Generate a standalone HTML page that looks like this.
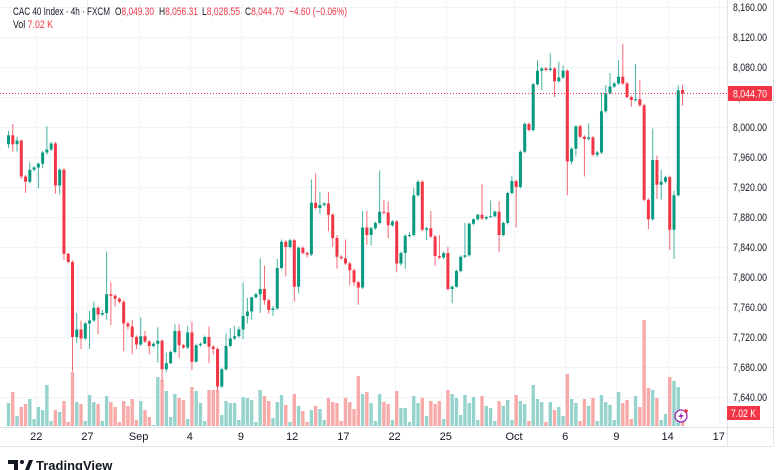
<!DOCTYPE html>
<html><head><meta charset="utf-8">
<style>
html,body{margin:0;padding:0;background:#fff;width:780px;height:470px;overflow:hidden;font-family:"Liberation Sans",sans-serif;}
svg text{font-family:"Liberation Sans",sans-serif;}
</style></head>
<body>
<svg id="chart" width="780" height="470" xmlns="http://www.w3.org/2000/svg">
  <g id="grid"></g>
  <g id="vol"></g>
  <g id="candles"></g>
  <line x1="0" y1="93.5" x2="727" y2="93.5" stroke="#f23645" stroke-width="1" stroke-dasharray="1,2"/>
  <line x1="727.5" y1="0" x2="727.5" y2="446" stroke="#e0e3eb"/>
  <line x1="0" y1="427.5" x2="773" y2="427.5" stroke="#e0e3eb"/>
  <line x1="0" y1="446.5" x2="773" y2="446.5" stroke="#e0e3eb"/>
  <line x1="773.5" y1="0" x2="773.5" y2="446" stroke="#e0e3eb"/>
  <g id="yaxis"></g>
  <g id="xaxis"></g>
  <g>
    <rect x="728" y="86" width="44" height="15" fill="#f23645"/>
    <text x="733" y="97.5" font-size="11" fill="#fff" textLength="34" lengthAdjust="spacingAndGlyphs">8,044.70</text>
  </g>
  <g>
    <rect x="727" y="406" width="33" height="14" fill="#f23645"/>
    <text x="731" y="417" font-size="11" fill="#fff" textLength="25" lengthAdjust="spacingAndGlyphs">7.02 K</text>
  </g>
  <g font-size="11">
    <text x="13" y="15" fill="#131722" textLength="97" lengthAdjust="spacingAndGlyphs">CAC 40 Index · 4h · FXCM</text>
    <text x="115" y="15" fill="#131722" textLength="39" lengthAdjust="spacingAndGlyphs">O<tspan fill="#f23645">8,049.30</tspan></text>
    <text x="159" y="15" fill="#131722" textLength="39" lengthAdjust="spacingAndGlyphs">H<tspan fill="#f23645">8,056.31</tspan></text>
    <text x="202" y="15" fill="#131722" textLength="38" lengthAdjust="spacingAndGlyphs">L<tspan fill="#f23645">8,028.55</tspan></text>
    <text x="245" y="15" fill="#131722" textLength="39" lengthAdjust="spacingAndGlyphs">C<tspan fill="#f23645">8,044.70</tspan></text>
    <text x="289" y="15" fill="#f23645" textLength="58" lengthAdjust="spacingAndGlyphs">−4.60 (−0.06%)</text>
    <text x="13" y="28" fill="#131722" textLength="40" lengthAdjust="spacingAndGlyphs">Vol <tspan fill="#f23645">7.02 K</tspan></text>
  </g>
  <g>
    <circle cx="681" cy="416" r="6" fill="#fff" stroke="#9c27b0" stroke-width="1.3"/>
    <path d="M682 411.5 L678.5 417 L681 417 L680 420.5 L683.5 415 L681 415 Z" fill="#9c27b0"/>
    <circle cx="686" cy="411" r="1.8" fill="#f23645"/>
  </g>
  <g>
    <path d="M8 460 h10 v10 h-4 v-6 h-6 z" fill="#131722"/>
    <circle cx="22" cy="462" r="2" fill="#131722"/>
    <path d="M25 470 l4 -10 h4 l-4 10 z" fill="#131722"/>
    <text x="36" y="470" font-size="13" font-weight="bold" fill="#131722">TradingView</text>
  </g>
</svg>
<script>
const opens=[7977,7989,7977,7982,7934,7927,7943,7946,7951,7966,7970,7978,7922,7943,7831,7820,7720,7730,7718,7738,7742,7759,7750,7752,7777,7775,7771,7767,7738,7734,7720,7710,7721,7714,7708,7711,7715,7677,7685,7700,7728,7709,7706,7726,7687,7709,7711,7720,7707,7704,7654,7677,7708,7718,7721,7730,7748,7754,7773,7777,7784,7769,7756,7758,7812,7847,7840,7849,7787,7839,7832,7830,7899,7892,7896,7898,7883,7852,7827,7825,7818,7809,7793,7786,7866,7856,7865,7872,7887,7886,7869,7874,7818,7832,7855,7856,7909,7927,7863,7865,7854,7828,7826,7832,7784,7787,7808,7827,7829,7871,7877,7883,7878,7880,7881,7887,7856,7872,7912,7928,7920,7967,8004,7996,8057,8075,8078,8076,8078,8061,8066,8075,7954,7971,8001,7987,7984,7986,7963,7966,8021,8045,8054,8058,8067,8058,8040,8036,8037,8029,7903,7877,7956,7923,7927,7933,7863,7909,8049.3];
const highs=[7995,8004,7987,7983,7936,7953,7948,7953,7968,8001,7980,7980,7945,7945,7832,7822,7752,7742,7740,7755,7767,7761,7756,7834,7793,7777,7773,7769,7740,7743,7722,7746,7728,7716,7713,7733,7717,7699,7702,7737,7737,7711,7735,7741,7711,7713,7722,7734,7709,7706,7679,7725,7732,7735,7734,7793,7772,7773,7779,7825,7815,7771,7761,7824,7850,7849,7851,7851,7841,7841,7834,7930,7938,7913,7900,7913,7885,7856,7829,7850,7820,7811,7795,7888,7888,7867,7874,7942,7903,7901,7876,7876,7834,7857,7860,7919,7929,7929,7867,7888,7856,7856,7834,7840,7789,7810,7829,7872,7873,7878,7884,7924,7882,7902,7889,7901,7874,7914,7935,7930,7969,8006,8006,8059,8089,8080,8080,8098,8080,8087,8082,8077,7973,8002,8003,7989,8005,7988,7968,8046,8056,8072,8060,8089,8111,8060,8042,8084,8063,8031,7905,7998,7962,7943,7935,7935,7915,8055,8056.31];
const lows=[7972,7967,7967,7931,7912,7925,7941,7918,7945,7963,7968,7911,7910,7823,7818,7674,7712,7704,7716,7704,7740,7724,7748,7743,7736,7761,7765,7701,7730,7697,7704,7708,7712,7697,7706,7686,7661,7673,7684,7698,7692,7704,7704,7676,7686,7707,7711,7685,7697,7648,7652,7675,7706,7716,7719,7717,7738,7743,7771,7752,7763,7751,7748,7756,7810,7801,7838,7767,7778,7830,7826,7828,7890,7884,7894,7861,7840,7811,7823,7816,7789,7788,7763,7784,7843,7842,7863,7870,7883,7852,7867,7807,7815,7811,7853,7854,7907,7861,7849,7852,7815,7824,7824,7782,7765,7786,7806,7825,7827,7869,7875,7876,7876,7879,7879,7833,7854,7870,7910,7866,7918,7965,7994,7994,8055,8049,8074,8074,8040,8059,8064,7909,7950,7961,7985,7934,7982,7961,7960,7964,8019,8043,8052,8056,8056,8038,8027,8034,8027,7901,7864,7875,7904,7903,7925,7836,7824,7907,8028.55];
const closes=[7989,7977,7982,7934,7927,7943,7946,7951,7966,7970,7978,7922,7943,7831,7820,7720,7730,7718,7738,7742,7759,7750,7752,7777,7775,7771,7767,7738,7734,7720,7710,7721,7714,7708,7711,7715,7677,7685,7700,7728,7709,7706,7726,7687,7709,7711,7720,7707,7704,7654,7677,7708,7718,7721,7730,7748,7754,7773,7777,7784,7769,7756,7758,7812,7847,7840,7849,7787,7839,7832,7830,7899,7892,7896,7898,7883,7852,7827,7825,7818,7809,7793,7786,7866,7856,7865,7872,7887,7886,7869,7874,7818,7832,7855,7856,7909,7927,7863,7865,7854,7828,7826,7832,7784,7787,7808,7827,7829,7871,7877,7883,7878,7880,7881,7887,7856,7872,7912,7928,7920,7967,8004,7996,8057,8075,8078,8076,8078,8061,8066,8075,7954,7971,8001,7987,7984,7986,7963,7966,8021,8045,8054,8058,8067,8058,8040,8036,8037,8029,7903,7877,7956,7923,7927,7933,7863,7909,8049,8044.7];
const volumes=[23,34,10,19,22,27,7,19,16,41,5,16,14,25,4,54,24,22,5,31,24,22,5,30,24,19,4,25,20,27,6,25,16,9,1,49,46,35,9,32,28,26,7,39,35,23,5,36,36,36,11,25,23,23,6,29,28,26,4,36,30,25,8,24,31,21,4,32,20,15,4,16,20,17,6,28,24,23,5,28,24,17,50,32,34,23,5,32,24,22,6,35,18,18,4,30,23,28,10,25,22,25,7,36,32,28,11,31,23,29,6,30,20,18,5,25,20,26,6,31,25,22,5,41,27,24,4,24,16,19,10,52,27,23,5,27,20,28,5,31,24,21,6,34,23,26,7,30,19,106,38,36,28,6,12,49,45,39,5];
const priceTicks=[8160,8120,8080,8040,8000,7960,7920,7880,7840,7800,7760,7720,7680,7640];
const timeLabels=["22","27","Sep","4","9","12","17","22","25","Oct","6","9","14","17"];
const timeLabelIdx=[6.5,18.5,30.5,42.5,54.5,66.5,78.5,90.5,102.5,118.5,130.5,142.5,154.5,166.5];

const NS="http://www.w3.org/2000/svg";
const X0=8.5, DX=4.266;
function xOf(i){return X0+i*DX;}
function yOf(p){return 7+(8160-p)*0.75;}
function volY(v){return 426-v;}
function mk(tag,attrs,parent){const e=document.createElementNS(NS,tag);for(const k in attrs)e.setAttribute(k,attrs[k]);parent.appendChild(e);return e;}

const grid=document.getElementById('grid');
priceTicks.forEach(p=>{
  const l=mk('line',{x1:0,x2:727,y1:Math.round(yOf(p))+0.5,y2:Math.round(yOf(p))+0.5,stroke:'#f0f3fa'},grid);
  
  
});
timeLabelIdx.forEach(i=>{
  const x=Math.round(xOf(i))+0.5;
  if(x>727)return;
  const l=mk('line',{x1:x,x2:x,y1:0,y2:427,stroke:'#f0f3fa'},grid);
  
  
});

const yax=document.getElementById('yaxis');
priceTicks.forEach(p=>{
  const t=mk('text',{x:733,y:yOf(p)+4,'font-size':11,fill:'#131722',textLength:34,lengthAdjust:'spacingAndGlyphs'},yax);
  t.textContent=p.toLocaleString('en-US',{minimumFractionDigits:2});
  
  
});
const xax=document.getElementById('xaxis');
timeLabels.forEach((s,k)=>{
  const t=mk('text',{x:xOf(timeLabelIdx[k]),y:440,'font-size':11,fill:'#131722','text-anchor':'middle'},xax);
  t.textContent=s;
  
  
});

const vg=document.getElementById('vol'), cg=document.getElementById('candles');
closes.forEach((c,i)=>{
  const o=opens[i], up=c>=o, x=xOf(i);
  const v=volumes[i];
  const vb=mk('rect',{x:x-1.7,y:volY(v),width:3.4,height:v,fill:up?'#96d3cc':'#f8aaa8'},vg);
  
  
  const col=up?'#089981':'#f23645';
  const w=mk('line',{x1:x,x2:x,y1:yOf(highs[i]),y2:yOf(lows[i]),stroke:col,'stroke-width':1,'stroke-opacity':0.75},cg);
  
  
  const top=yOf(Math.max(o,c)), bot=yOf(Math.min(o,c));
  const b=mk('rect',{x:x-1.5,y:top,width:3,height:Math.max(1,bot-top),fill:col},cg);
  
  
});
</script>
</body></html>
